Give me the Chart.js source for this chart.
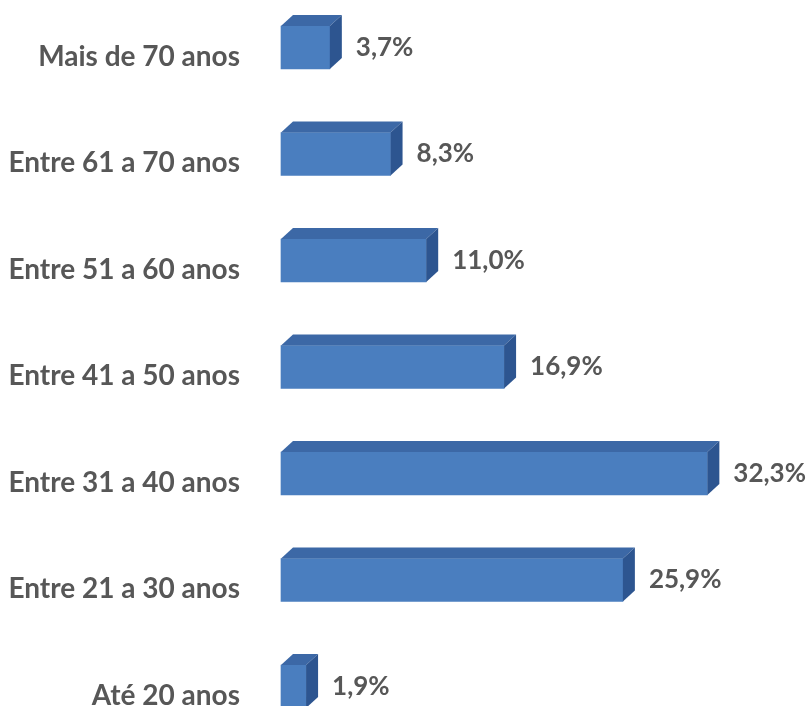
<!DOCTYPE html>
<html>
<head>
<meta charset="utf-8">
<script src="https://cdn.jsdelivr.net/npm/chart.js@4/dist/chart.umd.min.js"></script>
<style>
  html, body { margin: 0; padding: 0; background: #ffffff; }
  #wrap { width: 810px; height: 706px; position: relative; }
</style>
</head>
<body>
<div id="wrap"><canvas id="c" width="810" height="706"></canvas></div>
<script>
const categories = ["Mais de 70 anos", "Entre 61 a 70 anos", "Entre 51 a 60 anos", "Entre 41 a 50 anos", "Entre 31 a 40 anos", "Entre 21 a 30 anos", "Até 20 anos"];
const values = [3.7, 8.3, 11.0, 16.9, 32.3, 25.9, 1.9];
const valueLabels = ["3,7%", "8,3%", "11,0%", "16,9%", "32,3%", "25,9%", "1,9%"];

const FRONT = '#4a7ebf';
const TOP = '#3c68a6';
const SIDE = '#2d5590';
const TEXT = '#575757';
const DX = 12, DY = 11;

const bar3d = {
  id: 'bar3d',
  afterDatasetsDraw(chart) {
    const ctx = chart.ctx;
    const meta = chart.getDatasetMeta(0);
    ctx.save();
    meta.data.forEach((el, i) => {
      const p = el.getProps(['x', 'y', 'base', 'height'], true);
      const top = p.y - p.height / 2, bottom = p.y + p.height / 2;
      const l = p.base, r = p.x;
      // top face
      ctx.beginPath();
      ctx.moveTo(l, top);
      ctx.lineTo(l + DX, top - DY);
      ctx.lineTo(r + DX, top - DY);
      ctx.lineTo(r, top);
      ctx.closePath();
      ctx.fillStyle = TOP;
      ctx.fill();
      // side face
      ctx.beginPath();
      ctx.moveTo(r, top);
      ctx.lineTo(r + DX, top - DY);
      ctx.lineTo(r + DX, bottom - DY);
      ctx.lineTo(r, bottom);
      ctx.closePath();
      ctx.fillStyle = SIDE;
      ctx.fill();
      // value label
      ctx.fillStyle = TEXT;
      ctx.font = 'bold 26px Lato';
      ctx.textAlign = 'left';
      ctx.textBaseline = 'middle';
      ctx.fillText(valueLabels[i], r + DX + 14, p.y);
    });
    ctx.restore();
  }
};

new Chart(document.getElementById('c'), {
  type: 'bar',
  data: {
    labels: categories,
    datasets: [{
      data: values,
      backgroundColor: FRONT,
      borderWidth: 0,
      barThickness: 43,
      clip: false
    }]
  },
  options: {
    indexAxis: 'y',
    responsive: false,
    animation: false,
    events: [],
    layout: { padding: { left: 0, right: 1, top: 47.5, bottom: 19.5 } },
    plugins: { legend: { display: false }, tooltip: { enabled: false } },
    scales: {
      x: { display: false, min: 0, max: 40 },
      y: {
        offset: false,
        grid: { display: false, drawTicks: false },
        border: { display: false },
        ticks: {
          color: TEXT,
          font: { family: 'Lato', weight: 'bold', size: 28 },
          padding: 41,
          labelOffset: 9
        },
        afterFit(scale) {
          scale.width = 281;
          scale.paddingTop = 0;
          scale.paddingBottom = 0;
        }
      }
    }
  },
  plugins: [bar3d]
});
</script>
</body>
</html>
